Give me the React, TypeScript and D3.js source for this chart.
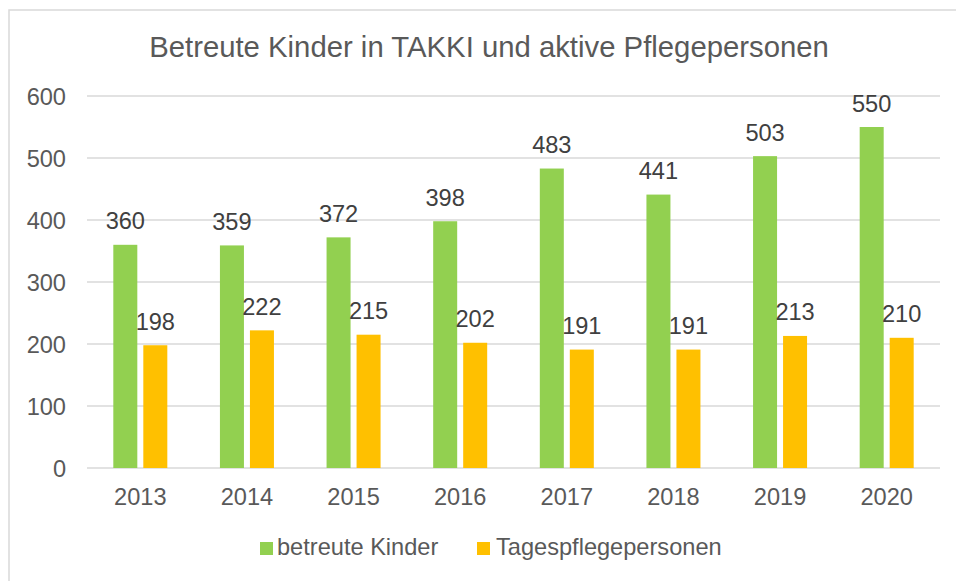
import React from "react";
import * as d3 from "d3";

const years = ["2013", "2014", "2015", "2016", "2017", "2018", "2019", "2020"];
const kinder = [360, 359, 372, 398, 483, 441, 503, 550];
const pflege = [198, 222, 215, 202, 191, 191, 213, 210];
const yTicks = [0, 100, 200, 300, 400, 500, 600];
const seriesNames = ["betreute Kinder", "Tagespflegepersonen"];
const colors = ["#92D050", "#FFC000"];
const title = "Betreute Kinder in TAKKI und aktive Pflegepersonen";

const W = 956;
const H = 581;
const FONT = "'Liberation Sans', Arial, Helvetica, sans-serif";
const TEXT = "#595959";

export default function App() {
  const x = d3.scaleBand<string>().domain(years).range([87, 940]).paddingInner(0).paddingOuter(0);
  const y = d3.scaleLinear().domain([0, 600]).range([468, 96]);
  const barW = 24;
  const gap = 6;
  const series = [kinder, pflege];

  return (
    <svg width={W} height={H} style={{ position: "absolute", left: 0, top: 0, background: "#fff" }} fontFamily={FONT}>
      <rect x={0} y={0} width={W} height={H} fill="#fff" />
      <rect x={9} y={10} width={W + 10} height={H + 10} fill="none" stroke="#d9d9d9" strokeWidth={1.5} />
      <text x={489} y={57} textAnchor="middle" fontSize={29.3} fill={TEXT}>{title}</text>
      {yTicks.map((t) => (
        <g key={t}>
          <line x1={87} x2={940} y1={y(t)} y2={y(t)} stroke="#d9d9d9" strokeWidth={1.3} />
          <text x={66} y={y(t) + 8.5} textAnchor="end" fontSize={23.6} fill={TEXT}>{t}</text>
        </g>
      ))}
      {years.map((yr, i) => {
        const c = (x(yr) as number) + x.bandwidth() / 2;
        return (
          <g key={yr}>
            {series.map((s, j) => {
              const bx = j === 0 ? c - gap / 2 - barW : c + gap / 2;
              return (
                <g key={j}>
                  <rect x={bx} y={y(s[i])} width={barW} height={y(0) - y(s[i])} fill={colors[j]} />
                  <text x={bx + barW / 2} y={y(s[i]) - 15.5} textAnchor="middle" fontSize={23.6} fill="#404040">{s[i]}</text>
                </g>
              );
            })}
            <text x={c} y={505} textAnchor="middle" fontSize={23.6} fill={TEXT}>{yr}</text>
          </g>
        );
      })}
      <g>
        <rect x={260} y={542} width={13} height={13} fill={colors[0]} />
        <text x={277} y={555} fontSize={23.6} fill={TEXT}>{seriesNames[0]}</text>
        <rect x={477} y={542} width={13} height={13} fill={colors[1]} />
        <text x={496} y={555} fontSize={23.6} fill={TEXT}>{seriesNames[1]}</text>
      </g>
    </svg>
  );
}
